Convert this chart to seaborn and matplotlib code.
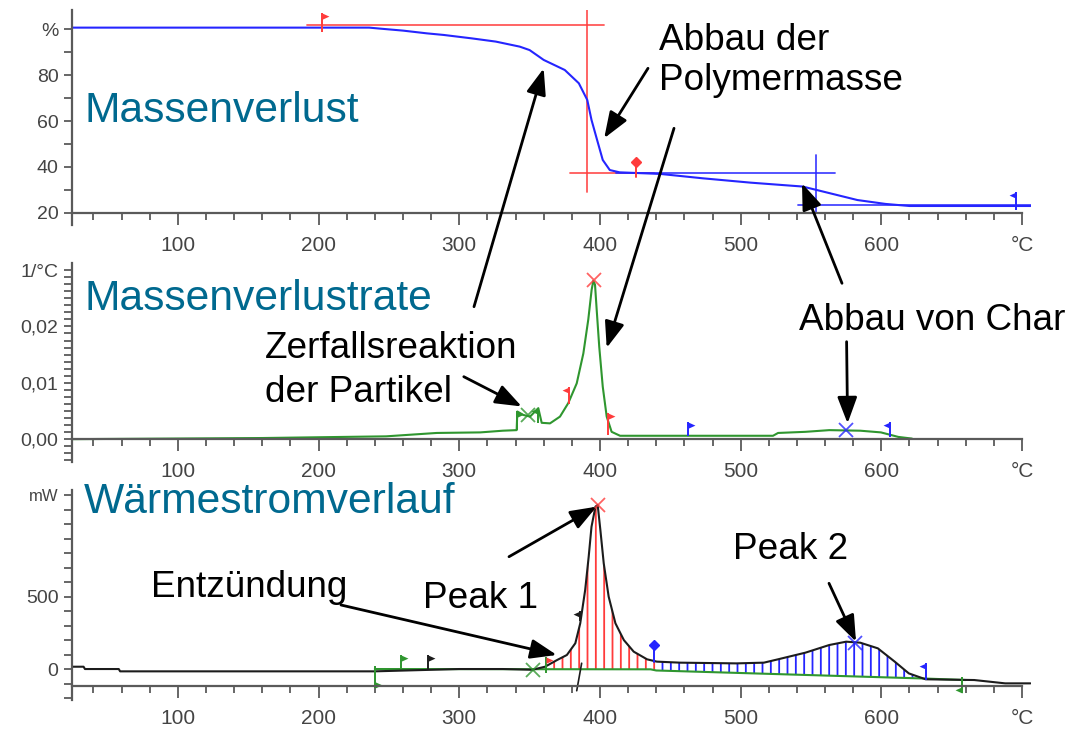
import numpy as np
import matplotlib
matplotlib.use("Agg")
import matplotlib.pyplot as plt
from matplotlib.ticker import FixedLocator, MultipleLocator
import seaborn as sns

# ---------------- data ----------------
x_ticks = [100, 200, 300, 400, 500, 600, 700]
x_tick_labels = ["100", "200", "300", "400", "500", "600", "°C"]

# Panel 1: Massenverlust (TG curve, %)
tg_temp = [25, 236, 245, 260, 277, 289, 309, 326, 343, 350, 357, 360, 375, 385, 391,
           394, 398, 402, 407, 414, 443, 473, 507, 544, 554, 583, 603, 620, 706]
tg_mass = [100.8, 100.8, 100.3, 99.5, 98.3, 97.6, 96.1, 94.7, 92.5, 91.0, 88.0, 86.7,
           82.3, 76.5, 69.2, 60.5, 51.7, 43.0, 38.6, 37.6, 36.9, 35.0, 33.1, 31.4, 29.9,
           25.5, 23.8, 22.9, 22.9]
tg_ticks = [20, 40, 60, 80, 100]
tg_tick_labels = ["20", "40", "60", "80", "%"]
# evaluation construction lines (temperature pairs, mass pairs)
tg_red_x = [[191.6, 403.0], [390.8, 390.8], [378.4, 438.5]]
tg_red_y = [[101.8, 101.8], [29.2, 108.5], [37.5, 37.5]]
tg_blue_x = [[411.5, 567.0], [553.4, 553.4], [541.0, 706.0]]
tg_blue_y = [[37.5, 37.5], [20.0, 45.2], [23.4, 23.4]]

# Panel 2: Massenverlustrate (DTG, 1/°C)
dtg_temp = [25, 160, 248, 284, 315, 331, 340.8, 341.3, 345.5, 350.3, 356.2, 358.6, 364.5,
            371.6, 377.5, 383.5, 388.2, 391.7, 394.1, 395.3, 396.5, 397.7, 399.5, 402,
            404.8, 408.3, 414.3, 523, 526.6, 546, 563, 585, 599.7, 612, 621.8]
dtg_rate = [0, 0.0002, 0.0005, 0.0011, 0.0012, 0.0015, 0.0016, 0.0049, 0.0043, 0.0040,
            0.0055, 0.0029, 0.0028, 0.0040, 0.0064, 0.0099, 0.0152, 0.0212, 0.0265,
            0.0281, 0.0274, 0.0229, 0.0164, 0.0093, 0.0040, 0.0013, 0.0006, 0.0006,
            0.0011, 0.0013, 0.0016, 0.0015, 0.0012, 0.0004, 0.0001]
dtg_ticks = [0.0, 0.01, 0.02, 0.03]
dtg_tick_labels = ["0,00", "0,01", "0,02", "1/°C"]

# Panel 3: Wärmestromverlauf (DSC, mW)
dsc_temp = [25, 33, 34, 58, 59, 240, 270, 300, 331, 352, 361, 369.5, 376.5, 382.5, 386,
            389.5, 392, 394, 396.8, 398.4, 400.3, 402.7, 406.2, 411, 417, 424, 433.5,
            440.5, 457, 497, 516.5, 526.5, 546, 563, 575, 585, 597.5, 609.5, 619.5,
            631.5, 666, 688, 706]
dsc_power = [16, 16, 0, 0, -16, -16, -8, 0, 0, -5, 16, 62, 97, 178, 316, 546, 776, 983,
             1122, 1133, 961, 730, 500, 316, 200, 120, 67, 51, 44, 39, 44, 67, 113, 166,
             189, 182, 143, 51, -30, -71, -76, -99, -99]
dsc_drop_temp = [383.5, 387.0]
dsc_drop_power = [-150, 40]
dsc_base_temp = [240, 436, 440, 632, 660]
dsc_base_power = [0, -2, -10, -66, -76]
dsc_ticks = [0, 500, 1200]
dsc_tick_labels = ["0", "500", "mW"]
peak1_range = [361, 440.5]
peak2_range = [440.5, 631.5]

# markers: (T, low, high, stem colour, flag colour, direction, position)
tg_flags = [(202.5, 99.0, 107.0, "red", "red", "right", "top"),
            (695.4, 21.0, 29.0, "blue", "blue", "left", "top")]
tg_pins = [(425.7, 35.7, 42.3, "red")]
dtg_flags = [(341.3, 0.0016, 0.0050, "green", "green", "right", "top"),
             (356.2, 0.0029, 0.0056, "green", "green", "left", "top"),
             (378.0, 0.0062, 0.0092, "red", "red", "left", "top"),
             (405.5, 0.0008, 0.0047, "red", "red", "right", "top"),
             (462.4, 0.0006, 0.0031, "blue", "blue", "right", "top"),
             (606.0, 0.0004, 0.0031, "blue", "blue", "left", "top")]
dtg_peaks = [(349.1, 0.0043, "green"), (395.6, 0.0282, "red"), (575.0, 0.0016, "blue")]
dsc_flags = [(240.0, -130, 20, "green", "green", "right", "bottom"),
             (258.6, 0, 100, "green", "green", "right", "top"),
             (278.0, 0, 100, "black", "black", "right", "top"),
             (362.0, -25, 85, "green", "red", "right", "top"),
             (386.0, 330, 400, "black", "black", "left", "top"),
             (631.8, -76, 40, "blue", "blue", "left", "top"),
             (657.0, -166, -53, "green", "green", "left", "bottom")]
dsc_pins = [(438.4, 50, 166, "blue")]
dsc_peaks = [(352.7, -7, "green"), (398.4, 1133, "red"), (581.2, 178, "blue")]

# ---------------- style ----------------
sns.set_style("ticks")
plt.rcParams["font.family"] = ["Liberation Sans", "DejaVu Sans"]
plt.rcParams["hatch.linewidth"] = 1.3

COL = {"red": "#ff3b3b", "blue": "#2525ff", "green": "#2f962f", "black": "#1c1c1c"}
TITLE_C = "#00698f"
AX_C = "#5a5a5a"
LBL_C = "#444444"

W, H = 1071, 729
fig = plt.figure(figsize=(W / 100, H / 100), dpi=100)
fig.patch.set_facecolor("white")


def rect(left, top, right, bottom):
    return [left / W, 1 - bottom / H, (right - left) / W, (bottom - top) / H]


ax1 = fig.add_axes(rect(72.3, 10, 1030.5, 225))
ax2 = fig.add_axes(rect(72.3, 263.3, 1030.5, 461.7))
ax3 = fig.add_axes(rect(72.3, 490, 1030.5, 700))


def style_axis(ax, ylim, base, yt, ytl, yminor):
    ax.set_xlim(25, 706)
    ax.set_ylim(*ylim)
    ax.patch.set_alpha(0)
    for s in ["top", "right"]:
        ax.spines[s].set_visible(False)
    ax.spines["bottom"].set_position(("data", base))
    ax.spines["bottom"].set_bounds(25, 700)
    for s in ["left", "bottom"]:
        ax.spines[s].set_color(AX_C)
        ax.spines[s].set_linewidth(1.6)
    ax.xaxis.set_major_locator(FixedLocator(x_ticks))
    ax.set_xticklabels(x_tick_labels)
    ax.xaxis.set_minor_locator(MultipleLocator(20))
    ax.yaxis.set_major_locator(FixedLocator(yt))
    ax.set_yticklabels(ytl)
    ax.yaxis.set_minor_locator(MultipleLocator(yminor))
    ax.tick_params(axis="x", which="major", direction="out", length=8.5, width=1.3,
                   pad=8, labelsize=15, color=AX_C, labelcolor=LBL_C)
    ax.tick_params(axis="x", which="minor", direction="out", length=5, width=1.3,
                   color=AX_C)
    ax.tick_params(axis="y", which="both", direction="out", length=6, width=1.3,
                   pad=4, labelsize=14, color=AX_C, labelcolor=LBL_C)
    ax.set_xlabel("")
    ax.set_ylabel("")


def draw_flag(ax, x, lo, hi, stem_c, flag_c, direction, at):
    ax.plot([x, x], [lo, hi], color=COL[stem_c], lw=1.4, solid_capstyle="butt")
    s = 1 if direction == "right" else -1
    if at == "top":
        verts = [(0, 0), (s * 1.0, -0.45), (0, -0.9), (0, 0)]
        y = hi
    else:
        verts = [(0, 0), (s * 1.0, 0.45), (0, 0.9), (0, 0)]
        y = lo
    ax.plot([x], [y], marker=verts, markersize=10, color=COL[flag_c],
            markeredgewidth=0, linestyle="none")


def draw_pin(ax, x, lo, hi, c):
    ax.plot([x, x], [lo, hi], color=COL[c], lw=1.4)
    ax.plot([x], [hi], marker="D", markersize=5, color=COL[c], linestyle="none")


def draw_peak(ax, x, y, c):
    ax.plot([x], [y], marker="x", markersize=10, mew=1.3, color=COL[c],
            linestyle="none", alpha=0.8)


# ---------------- panel 1 ----------------
for xs, ys in zip(tg_red_x, tg_red_y):
    ax1.plot(xs, ys, color=COL["red"], lw=1.3, alpha=0.85)
for xs, ys in zip(tg_blue_x, tg_blue_y):
    ax1.plot(xs, ys, color=COL["blue"], lw=1.3, alpha=0.85)
sns.lineplot(x=tg_temp, y=tg_mass, ax=ax1, color=COL["blue"], lw=1.5,
             estimator=None, sort=False)
for f in tg_flags:
    draw_flag(ax1, *f)
for p in tg_pins:
    draw_pin(ax1, *p)
style_axis(ax1, (14.6, 108.5), 20, tg_ticks, tg_tick_labels, 10)

# ---------------- panel 2 ----------------
sns.lineplot(x=dtg_temp, y=dtg_rate, ax=ax2, color=COL["green"], lw=1.5,
             estimator=None, sort=False)
for f in dtg_flags:
    draw_flag(ax2, *f)
for p in dtg_peaks:
    draw_peak(ax2, *p)
style_axis(ax2, (-0.004, 0.0312), 0.0, dtg_ticks, dtg_tick_labels, 0.00125)

# ---------------- panel 3 ----------------
t_arr = np.array(dsc_temp, dtype=float)
p_arr = np.array(dsc_power, dtype=float)
for rng, c in [(peak1_range, "red"), (peak2_range, "blue")]:
    m = (t_arr >= rng[0]) & (t_arr <= rng[1])
    ax3.fill_between(t_arr[m], p_arr[m], np.interp(t_arr[m], dsc_base_temp, dsc_base_power),
                     facecolor="none", edgecolor=COL[c], hatch="||", linewidth=0)
sns.lineplot(x=dsc_base_temp, y=dsc_base_power, ax=ax3, color=COL["green"], lw=1.5,
             estimator=None, sort=False)
sns.lineplot(x=dsc_temp, y=dsc_power, ax=ax3, color=COL["black"], lw=1.5,
             estimator=None, sort=False)
ax3.plot(dsc_drop_temp, dsc_drop_power, color=COL["black"], lw=1.2)
for f in dsc_flags:
    draw_flag(ax3, *f)
for p in dsc_pins:
    draw_pin(ax3, *p)
for p in dsc_peaks:
    draw_peak(ax3, *p)
style_axis(ax3, (-214, 1237), -120, dsc_ticks, dsc_tick_labels, 100)
for t in ax3.get_yticklabels():
    if t.get_text() == "mW":
        t.set_fontsize(12)

# ---------------- texts & arrows ----------------
titles = [("Massenverlust", 84, 121.7), ("Massenverlustrate", 84, 310),
          ("Wärmestromverlauf", 84, 513)]
for s, x, y in titles:
    fig.text(x / W, 1 - y / H, s, fontsize=30.7, color=TITLE_C, ha="left", va="baseline")

notes = [("Abbau der", 659, 50), ("Polymermasse", 659, 90), ("Zerfallsreaktion", 265, 358),
         ("der Partikel", 265, 401.7), ("Abbau von Char", 799, 330),
         ("Entzündung", 151, 597), ("Peak 1", 423, 608), ("Peak 2", 733, 559)]
for s, x, y in notes:
    fig.text(x / W, 1 - y / H, s, fontsize=26.6, color="black", ha="left", va="baseline")

arrows = [(ax1, 360, 83.0, 474, 306.7), (ax1, 403, 52.5, 648, 68.3),
          (ax2, 404.8, 0.0162, 674, 128.3), (ax1, 543.6, 32.8, 842, 283.3),
          (ax2, 576, 0.0028, 846.6, 341.7), (ax2, 344.4, 0.0058, 463.8, 376.7),
          (ax3, 369.3, 97, 341, 605), (ax3, 397.7, 1122, 509, 556.7),
          (ax3, 582, 189, 829, 583.3)]
akw = dict(arrowstyle="-|>,head_length=0.8,head_width=0.3", color="black", lw=2.0,
           mutation_scale=20, shrinkA=0, shrinkB=0)
for ax, tx, ty, px, py in arrows:
    ax.annotate("", xy=(tx, ty), xycoords="data", xytext=(px / W, 1 - py / H),
                textcoords="figure fraction", arrowprops=akw, annotation_clip=False)

fig.savefig("out.png", dpi=100)
